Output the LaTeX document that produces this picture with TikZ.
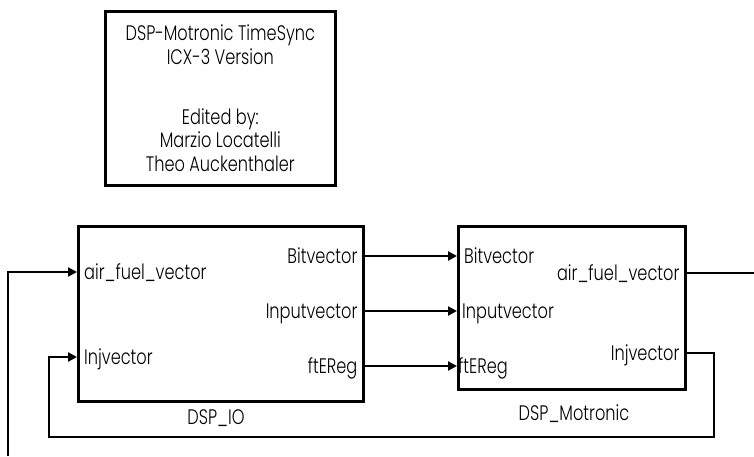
\documentclass[tikz,border=0pt]{standalone}
\usepackage{fontspec}
\setmainfont{Poppins Light}[FakeStretch=0.77]
\usetikzlibrary{arrows.meta,positioning,calc}
\tikzset{
  blk/.style={draw,line width=2.6pt,anchor=north west,inner sep=0pt},
  note/.style={blk,align=center,font=\fontsize{21}{23.5}\selectfont},
  lbl/.style={font=\fontsize{21}{24}\selectfont,inner sep=0pt},
  pin/.style={lbl,anchor=base west,xshift=7pt,yshift=-7.5pt},
  pout/.style={lbl,anchor=base east,xshift=-7pt,yshift=-7.5pt},
  ar/.style={-{Triangle[length=9pt,width=9pt]},line width=2.8pt},
  ln/.style={line width=2.8pt},
}

\begin{document}
\begin{tikzpicture}[x=1pt,y=-1pt]
  \useasboundingbox (0,0) rectangle (754,456);

  % title block
  \node[note,minimum width=230pt,minimum height=174pt] (title) at (104,10)
    {DSP-Motronic TimeSync\\ICX-3 Version\\[36.5pt]Edited by:\\Marzio Locatelli\\Theo Auckenthaler};

  % blocks
  \node[blk,minimum width=285pt,minimum height=175pt] (io) at (77,225) {};
  \node[blk,minimum width=227pt,minimum height=163pt] (mot) at (457,225) {};
  \node[lbl,anchor=base] (io-name) at (216,424) {DSP\_IO};
  \node[lbl,anchor=base] (mot-name) at (574,420) {DSP\_Motronic};

  % ports
  \coordinate (io-afv) at ($(io.north west)+(0,47)$);
  \coordinate (io-inj) at ($(io.north west)+(0,132)$);
  \coordinate (io-bit) at ($(io.north east)+(0,31)$);
  \coordinate (io-inp) at ($(io.north east)+(0,86)$);
  \coordinate (io-fte) at ($(io.north east)+(0,141)$);
  \coordinate (mot-bit) at ($(mot.north west)+(0,31)$);
  \coordinate (mot-inp) at ($(mot.north west)+(0,86)$);
  \coordinate (mot-fte) at ($(mot.north west)+(0,141)$);
  \coordinate (mot-afv) at ($(mot.north east)+(0,48)$);
  \coordinate (mot-inj) at ($(mot.north east)+(0,128)$);

  \node[pin] (io-afv-l) at (io-afv) {air\_fuel\_vector};
  \node[pin] (io-inj-l) at (io-inj) {Injvector};
  \node[pout] (io-bit-l) at (io-bit) {Bitvector};
  \node[pout] (io-inp-l) at (io-inp) {Inputvector};
  \node[pout] (io-fte-l) at (io-fte) {ftEReg};
  \node[pin] (mot-bit-l) at (mot-bit) {Bitvector};
  \node[pin,xshift=-2pt] (mot-inp-l) at (mot-inp) {Inputvector};
  \node[pin,xshift=-6pt] (mot-fte-l) at (mot-fte) {ftEReg};
  \node[pout] (mot-afv-l) at (mot-afv) {air\_fuel\_vector};
  \node[pout] (mot-inj-l) at (mot-inj) {Injvector};

  % free ends and bends
  \coordinate (afv-src) at (8,456);
  \coordinate (afv-dst) at (754,273);
  \coordinate (loop-r) at (714,437);
  \coordinate (loop-l) at (49,437);

  \draw[ar] (afv-src) |- (io-afv);
  \draw[ar] (io-bit) -- (mot-bit);
  \draw[ar] (io-inp) -- (mot-inp);
  \draw[ar] (io-fte) -- (mot-fte);
  \draw[ln] (mot-afv) -- (afv-dst);
  \draw[ar] (mot-inj) -| (loop-r) -- (loop-l) |- (io-inj);
\end{tikzpicture}
\end{document}
